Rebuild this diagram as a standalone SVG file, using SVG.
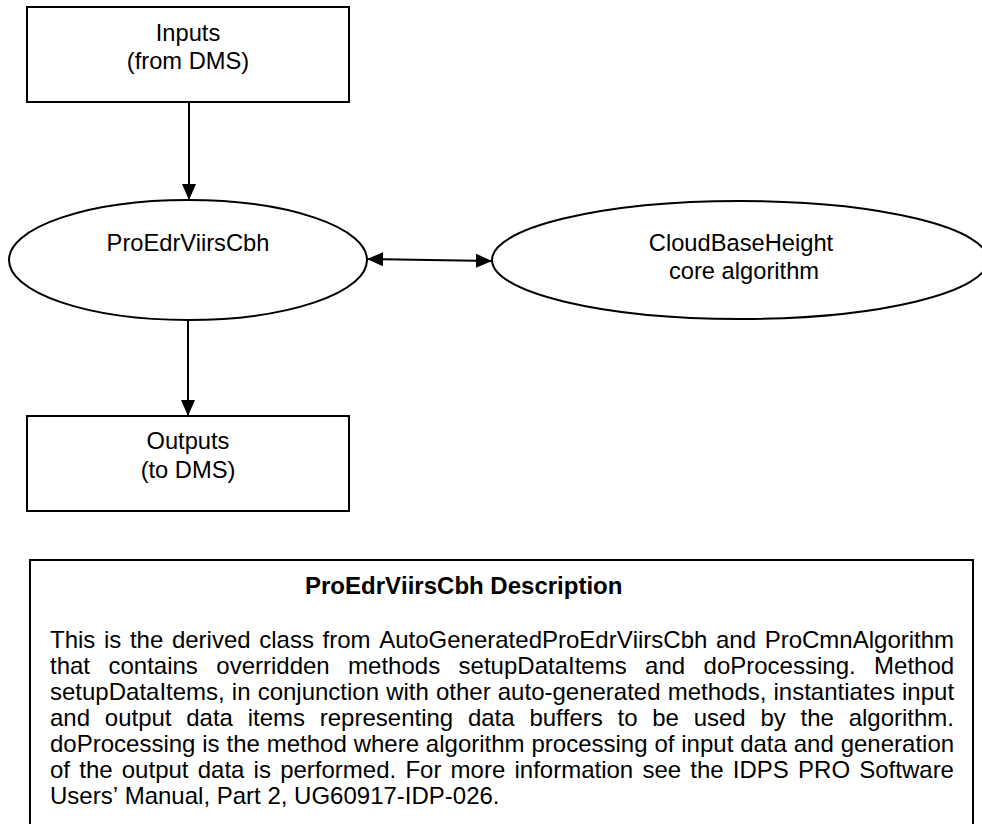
<svg xmlns="http://www.w3.org/2000/svg" width="982" height="824" viewBox="0 0 982 824">
  <style>
    .box { fill: #ffffff; stroke: #000000; stroke-width: 2; }
    .lbl { font-family: "Liberation Sans", Arial, sans-serif; font-size: 23.7px; fill: #000000; text-anchor: middle; }
    .body { font-family: "Liberation Sans", Arial, sans-serif; font-size: 24px; fill: #000000; font-kerning: none; }
    .title { font-family: "Liberation Sans", Arial, sans-serif; font-size: 24px; font-weight: bold; fill: #000000; font-kerning: none; }
    .conn { stroke: #000000; stroke-width: 2; fill: none; }
  </style>
  <defs>
    <marker id="arrow" markerUnits="userSpaceOnUse" markerWidth="16" markerHeight="16" viewBox="0 0 16 14" refX="16" refY="7" orient="auto-start-reverse">
      <path d="M0,0 L16,7 L0,14 Z" fill="#000000"/>
    </marker>
  </defs>

  <rect width="982" height="824" fill="#ffffff"/>

  <g id="inputs">
    <rect class="box" x="27" y="7" width="322" height="95"/>
    <text class="lbl" x="188" y="41">Inputs</text>
    <text class="lbl" x="188" y="69">(from DMS)</text>
  </g>

  <g id="pro-edr-viirs-cbh">
    <ellipse class="box" cx="188" cy="260" rx="179" ry="60"/>
    <text class="lbl" x="188" y="251">ProEdrViirsCbh</text>
  </g>

  <g id="cloud-base-height">
    <ellipse class="box" cx="740" cy="260" rx="248" ry="59"/>
    <text class="lbl" x="741" y="251">CloudBaseHeight</text>
    <text class="lbl" x="744" y="279">core algorithm</text>
  </g>

  <g id="outputs">
    <rect class="box" x="27" y="416" width="322" height="95"/>
    <text class="lbl" x="188" y="449">Outputs</text>
    <text class="lbl" x="188" y="478">(to DMS)</text>
  </g>

  <g id="connectors">
    <line class="conn" x1="189" y1="102" x2="189" y2="200" marker-end="url(#arrow)"/>
    <line class="conn" x1="367" y1="259" x2="492" y2="261" marker-start="url(#arrow)" marker-end="url(#arrow)"/>
    <line class="conn" x1="188" y1="320" x2="188" y2="416" marker-end="url(#arrow)"/>
  </g>

  <g id="description">
    <rect class="box" x="30" y="560" width="943" height="280"/>
    <text class="title" x="305" y="594">ProEdrViirsCbh Description</text>
    <text class="body" x="50" y="648" word-spacing="1.96">This is the derived class from AutoGeneratedProEdrViirsCbh and ProCmnAlgorithm</text>
    <text class="body" x="50" y="674" word-spacing="11.76">that contains overridden methods setupDataItems and doProcessing. Method</text>
    <text class="body" x="50" y="700" word-spacing="0.44">setupDataItems, in conjunction with other auto-generated methods, instantiates input</text>
    <text class="body" x="50" y="726" word-spacing="8.07">and output data items representing data buffers to be used by the algorithm.</text>
    <text class="body" x="50" y="752" word-spacing="0.2">doProcessing is the method where algorithm processing of input data and generation</text>
    <text class="body" x="50" y="778" word-spacing="2.53">of the output data is performed. For more information see the IDPS PRO Software</text>
    <text class="body" x="50" y="804">Users’ Manual, Part 2, UG60917-IDP-026.</text>
  </g>
</svg>
